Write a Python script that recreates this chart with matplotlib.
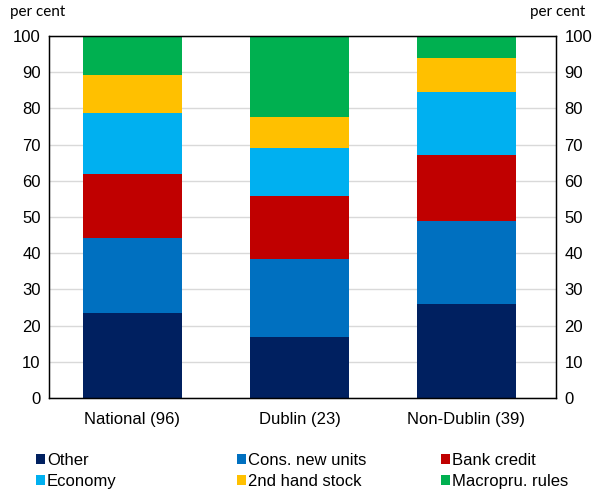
import matplotlib
matplotlib.use("Agg")
import matplotlib.pyplot as plt
import numpy as np
from matplotlib.patches import Patch

# data (per cent of responses)
categories = ['National (96)', 'Dublin (23)', 'Non-Dublin (39)']
series_names = ['Other', 'Cons. new units', 'Bank credit', 'Economy', '2nd hand stock', 'Macropru. rules']
other = [23.4, 16.8, 26.1]
cons_new_units = [20.9, 21.6, 22.8]
bank_credit = [17.7, 17.5, 18.2]
economy = [16.7, 13.1, 17.5]
second_hand = [10.5, 8.5, 9.2]
macropru = [10.8, 22.5, 6.2]

colors = ['#002060', '#0070C0', '#C00000', '#00B0F0', '#FFC000', '#00B050']
narrow = ['Liberation Sans Narrow', 'Liberation Sans', 'DejaVu Sans']

fig = plt.figure(figsize=(5.96, 4.95), dpi=100)
ax = fig.add_axes([49 / 596, 1 - 398 / 495, 507 / 596, 362 / 495])

x = np.arange(len(categories))
bottom = np.zeros(len(categories))
all_series = [other, cons_new_units, bank_credit, economy, second_hand, macropru]
for name, vals, col in zip(series_names, all_series, colors):
    ax.bar(x, vals, bottom=bottom, width=0.593, color=col, zorder=2)
    bottom += np.array(vals)

ax.set_xlim(-0.5, 2.536)
ax.set_ylim(0, 100)
ax.set_yticks(range(0, 101, 10))
ax.set_xticks(x)
ax.set_xticklabels(categories, fontsize=12, family=narrow)
ax.grid(axis='y', color='#d9d9d9', linewidth=1, zorder=0)
ax.tick_params(axis='y', length=0, pad=6)
ax.tick_params(axis='x', length=0, pad=10)
for lab in ax.get_yticklabels():
    lab.set_family(narrow)
    lab.set_fontsize(12)
for s in ax.spines.values():
    s.set_color('black')
    s.set_linewidth(1)

ax2 = ax.twinx()
ax2.set_ylim(0, 100)
ax2.set_yticks(range(0, 101, 10))
ax2.tick_params(length=0, pad=6)
for lab in ax2.get_yticklabels():
    lab.set_family(narrow)
    lab.set_fontsize(12)

fig.text(10 / 596, 1 - 12 / 495, 'per cent', fontsize=11, family='Lato', va='center', ha='left')
fig.text(585 / 596, 1 - 12 / 495, 'per cent', fontsize=11, family='Lato', va='center', ha='right')

# legend: three columns placed separately
col_x = [36 / 596, 237 / 596, 441 / 596]
for i in range(3):
    idx = [i, i + 3]
    handles = [Patch(facecolor=colors[j], edgecolor='none') for j in idx]
    labels = [series_names[j] for j in idx]
    fig.legend(handles, labels, loc='upper left', bbox_to_anchor=(col_x[i], 1 - 453 / 495),
               frameon=False, handlelength=0.55, handleheight=0.55, handletextpad=0.1,
               labelspacing=0.35, borderaxespad=0, borderpad=0,
               prop={'family': narrow, 'size': 12})

fig.savefig('out.png', dpi=100)
